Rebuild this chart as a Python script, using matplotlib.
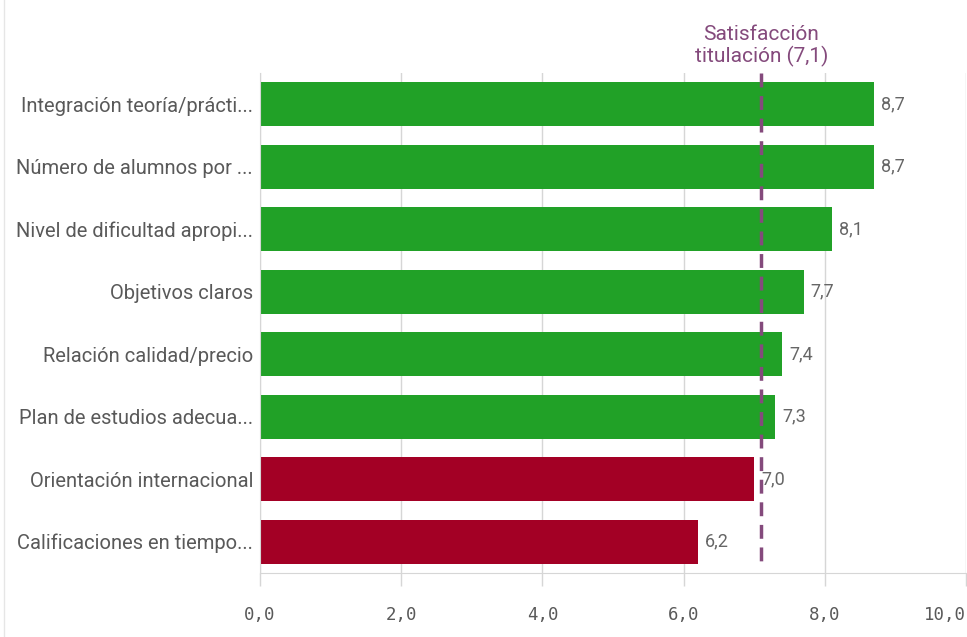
"""
Satisfacción por aspecto de la titulación (barras horizontales).
"""

import matplotlib
matplotlib.use("Agg")
import matplotlib.pyplot as plt

categories = [
    "Integración teoría/prácti...",
    "Número de alumnos por ...",
    "Nivel de dificultad apropi...",
    "Objetivos claros",
    "Relación calidad/precio",
    "Plan de estudios adecua...",
    "Orientación internacional",
    "Calificaciones en tiempo...",
]
values = [8.7, 8.7, 8.1, 7.7, 7.4, 7.3, 7.0, 6.2]
reference_value = 7.1
reference_label = "Satisfacción\ntitulación (7,1)"
x_ticks = [0, 2, 4, 6, 8, 10]
x_tick_labels = ["0,0", "2,0", "4,0", "6,0", "8,0", "10,0"]

GREEN = "#21a127"
RED = "#a30025"
PURPLE = "#844a7c"
TEXT = "#595959"
GRID = "#d6d6d6"

plt.rcParams["font.family"] = ["Roboto", "DejaVu Sans"]

fig = plt.figure(figsize=(9.67, 6.37), dpi=100)
ax = fig.add_axes([0.2689, 0.1005, 0.7301, 0.7849])

y = list(range(len(categories)))
colors = [GREEN if v > reference_value else RED for v in values]
ax.barh(y, values, height=0.7, color=colors, zorder=2)

for yi, v in zip(y, values):
    ax.text(v + 0.1, yi, f"{v:.1f}".replace(".", ","), va="center", ha="left",
            fontsize=13, color="#666666", zorder=4)

ax.set_xlim(0, 10)
ax.set_ylim(len(categories) - 0.5, -0.5)
ax.set_yticks(y)
ax.set_yticklabels(categories, fontsize=14.5, color=TEXT)
ax.tick_params(axis="y", length=0, pad=5)

ax.set_xticks(x_ticks)
ax.set_xticklabels(x_tick_labels, family="DejaVu Sans Mono", fontsize=12.5, color=TEXT)
ax.tick_params(axis="x", length=9, width=1, color=GRID, pad=15)
ax.get_xticklabels()[-1].set_horizontalalignment("right")

ax.grid(axis="x", color=GRID, lw=1, zorder=0)
for side in ("top", "right"):
    ax.spines[side].set_visible(False)
ax.spines["left"].set_color(GRID)
ax.spines["bottom"].set_color(GRID)

# línea de referencia (satisfacción titulación)
ax.plot([reference_value, reference_value], [-0.5, len(categories) - 0.62],
        color=PURPLE, lw=2.5, ls=(0, (4, 2.5)), zorder=3, clip_on=False)
ax.text(reference_value, -0.6, reference_label, ha="center", va="bottom",
        fontsize=15, color=PURPLE, linespacing=1.1)

# borde fino del panel a la izquierda
fig.add_artist(plt.Line2D([0.004, 0.004], [0.0, 1.0], color="#e6e6e6", lw=1))

fig.savefig("out.png", dpi=100)
